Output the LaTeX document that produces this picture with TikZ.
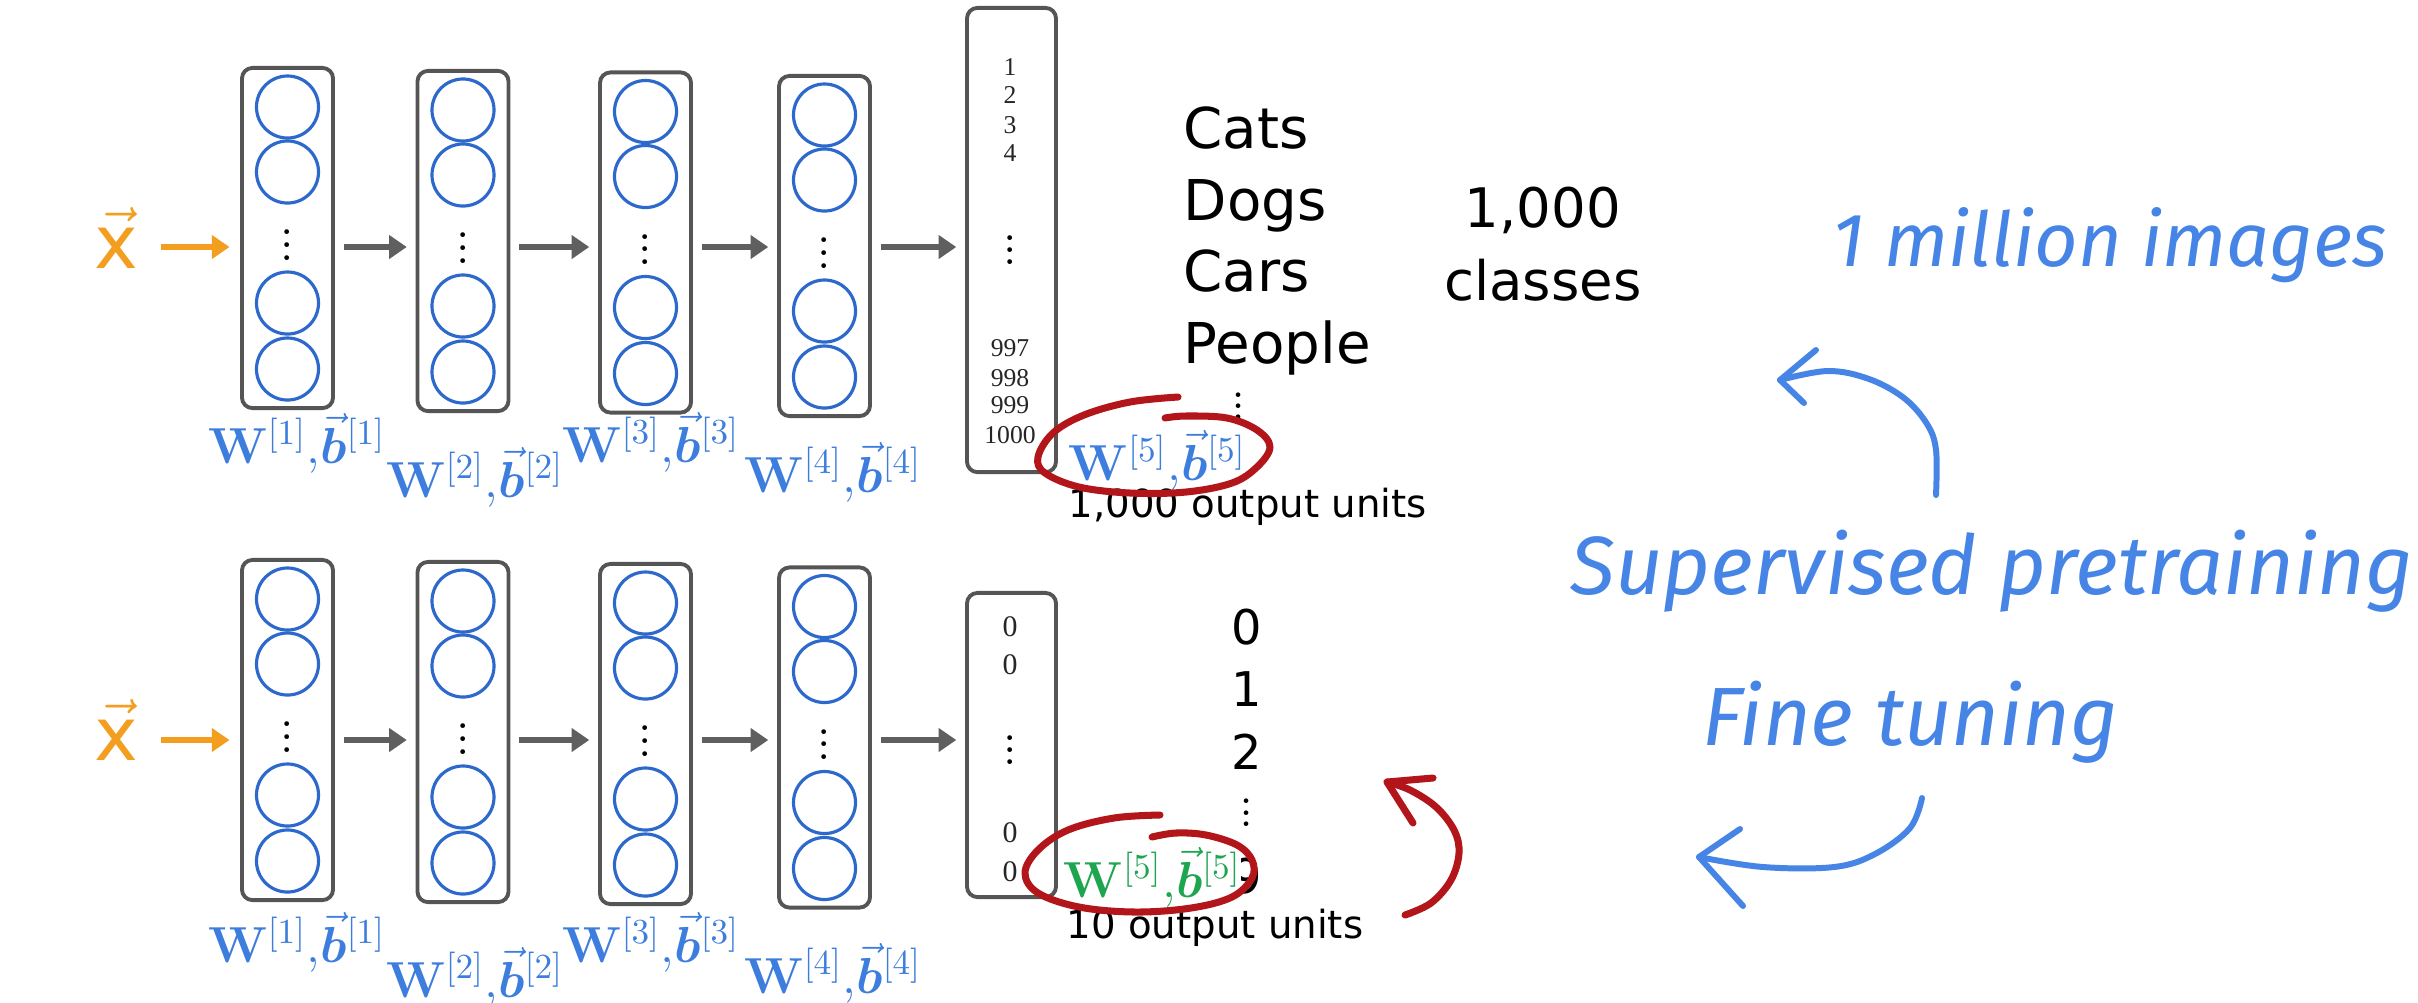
\documentclass[tikz,border=0pt]{standalone}
\usepackage[no-math]{fontspec}
\usepackage{amsmath,bm}
\usetikzlibrary{arrows.meta}
\newfontfamily\dejavu{DejaVu Sans}
\newfontfamily\tms{Liberation Serif}
\newfontfamily\hand{Fira Sans}
\definecolor{boxgray}{RGB}{85,85,85}
\definecolor{arrgray}{RGB}{95,95,95}
\definecolor{nblue}{RGB}{45,105,205}
\definecolor{wblue}{RGB}{60,125,222}
\definecolor{hblue}{RGB}{70,133,230}
\definecolor{wgreen}{RGB}{30,165,80}
\definecolor{orng}{RGB}{244,158,32}
\definecolor{redc}{RGB}{178,22,26}
% three stacked dots with a chosen pitch
\newcommand\mydots[1]{\vbox{\baselineskip#1\lineskiplimit0pt\hbox{.}\hbox{.}\hbox{.}}}
% weight/bias label of layer #1
\newcommand\wb[1]{$\mathbf{W}^{[#1]}{,}\vec{\bm b}^{[#1]}$}
% one hidden layer: box, four neurons and the ellipsis
\newcommand\nnlayer[3]{%
  \node[lbox] (#1) at (#2,#3) {};
  \foreach \k/\dy in {1/-131,2/-66,3/65,4/131}{\node[neuron] (#1-c\k) at (#2,#3+\dy) {};}
  \node[vdot] (#1-d) at (#2,#3+7) {\mydots{3.6pt}};
}
\begin{document}
\begin{tikzpicture}[x=0.01cm,y=-0.01cm,
  lbox/.style={draw=boxgray, line width=1.1pt, rounded corners=3pt, fill=white,
               minimum width=0.91cm, minimum height=3.4cm, inner sep=0pt},
  neuron/.style={circle, draw=nblue, line width=0.9pt, minimum size=0.62cm, inner sep=0pt},
  vdot/.style={inner sep=0pt, font=\fontsize{14}{14}\selectfont},
  gar/.style={draw=arrgray, line width=1.5pt, -{Triangle[length=5pt,width=6.5pt]},
              shorten <=2.5pt, shorten >=2.5pt},
  oar/.style={draw=orng, line width=1.5pt, -{Triangle[length=5pt,width=6.5pt]}},
  wlab/.style={text=wblue, inner sep=0pt, anchor=base, font=\fontsize{13.8}{13.8}\selectfont},
  dig/.style={inner sep=0pt, text=black!85, font=\tms\fontsize{7.3}{7.3}\selectfont},
  dig2/.style={inner sep=0pt, text=black!85, font=\tms\fontsize{8.5}{8.5}\selectfont},
  cls/.style={inner sep=0pt, anchor=base west, font=\dejavu\fontsize{16}{16}\selectfont},
  big/.style={inner sep=0pt, anchor=base, font=\dejavu\fontsize{15.5}{15.5}\selectfont},
  units/.style={inner sep=0pt, anchor=base west, font=\dejavu\fontsize{11}{11}\selectfont},
  cnum/.style={inner sep=0pt, font=\dejavu\fontsize{13.6}{13.6}\selectfont},
  hw/.style={text=hblue, inner sep=0pt, anchor=base west, font=\hand\itshape\fontsize{23.5}{23.5}\selectfont},
  redp/.style={draw=redc, line width=2pt, line cap=round, line join=round},
  bluep/.style={draw=hblue, line width=1.7pt, line cap=round, line join=round}
]
\fill[white] (0,0) rectangle (2418,1002);
\path[use as bounding box] (0,0) rectangle (2418,1002);

% ---------- upper network: 1000-way classifier ----------
\coordinate (ya) at (0,247);
\node[inner sep=0pt, anchor=base, text=orng, font=\dejavu\fontsize{21}{21}\selectfont]
  (xa) at (116,268) {$\vec{\text{x}}$};
\nnlayer{t1}{287.5}{238}
\nnlayer{t2}{463}{241}
\nnlayer{t3}{645.5}{242.5}
\nnlayer{t4}{824.5}{246}
\node[lbox, minimum width=0.89cm, minimum height=4.64cm] (t5) at (1011.5,240) {};
\node[dig] (t5-n1) at (1010,67) {1};
\node[dig] (t5-n2) at (1010,95) {2};
\node[dig] (t5-n3) at (1010,125) {3};
\node[dig] (t5-n4) at (1010,153) {4};
\node[vdot] (t5-d) at (1010,250) {\mydots{3.4pt}};
\node[dig] (t5-n997) at (1010,348) {997};
\node[dig] (t5-n998) at (1010,378) {998};
\node[dig] (t5-n999) at (1010,405) {999};
\node[dig] (t5-n1000) at (1010,435) {1000};

\draw[oar, shorten <=6.5pt, shorten >=3pt] (xa.east |- ya) -- (t1.west |- ya);
\draw[gar] (t1.east |- ya) -- (t2.west |- ya);
\draw[gar] (t2.east |- ya) -- (t3.west |- ya);
\draw[gar] (t3.east |- ya) -- (t4.west |- ya);
\draw[gar] (t4.east |- ya) -- (t5.west |- ya);

\node[wlab] (t1-w) at (297,463) {\wb{1}};
\node[wlab] (t2-w) at (475,497) {\wb{2}};
\node[wlab] (t3-w) at (651,462) {\wb{3}};
\node[wlab] (t4-w) at (833,492) {\wb{4}};
\node[wlab, anchor=base west] (t5-w) at (1068,480) {\wb{5}};
\node[units] (t5-u) at (1068,517) {1,000 output units};

\node[cls] (cats) at (1183,148) {Cats};
\node[cls] (dogs) at (1183,220) {Dogs};
\node[cls] (cars) at (1183,291) {Cars};
\node[cls] (people) at (1183,363) {People};
\node[vdot, font=\fontsize{16}{16}\selectfont] (cls-d) at (1239,406) {\mydots{3.2pt}};
\node[big] (k1000) at (1543,227) {1,000};
\node[big] (kcls) at (1543,300) {classes};

% ---------- lower network: 10-way classifier ----------
\coordinate (yb) at (0,740);
\node[inner sep=0pt, anchor=base, text=orng, font=\dejavu\fontsize{21}{21}\selectfont]
  (xb) at (116,760) {$\vec{\text{x}}$};
\nnlayer{u1}{287.5}{730}
\nnlayer{u2}{463}{732}
\nnlayer{u3}{645.5}{734}
\nnlayer{u4}{824.5}{737.5}
\node[lbox, minimum width=0.89cm, minimum height=3.04cm] (u5) at (1011.5,745) {};
\node[dig2] (u5-n1) at (1010,627) {0};
\node[dig2] (u5-n2) at (1010,665) {0};
\node[vdot] (u5-d) at (1010,750) {\mydots{3.4pt}};
\node[dig2] (u5-n3) at (1010,833) {0};
\node[dig2] (u5-n4) at (1010,872) {0};

\draw[oar, shorten <=6.5pt, shorten >=3pt] (xb.east |- yb) -- (u1.west |- yb);
\draw[gar] (u1.east |- yb) -- (u2.west |- yb);
\draw[gar] (u2.east |- yb) -- (u3.west |- yb);
\draw[gar] (u3.east |- yb) -- (u4.west |- yb);
\draw[gar] (u4.east |- yb) -- (u5.west |- yb);

\node[wlab] (u1-w) at (297,962) {\wb{1}};
\node[wlab] (u2-w) at (475,997) {\wb{2}};
\node[wlab] (u3-w) at (651,962) {\wb{3}};
\node[wlab] (u4-w) at (833,993) {\wb{4}};

\node[cnum] (c0) at (1247,627) {0};
\node[cnum] (c1) at (1247,689) {1};
\node[cnum] (c2) at (1247,752) {2};
\node[vdot, font=\fontsize{16}{16}\selectfont] (cd) at (1247,813) {\mydots{3.3pt}};
\node[cnum] (c9) at (1247,876) {9};
\node[wlab, anchor=base west, text=wgreen, fill=white] (u5-w) at (1063,897) {\wb{5}};
\node[units] (u5-u) at (1066,938) {10 output units};

% ---------- handwritten notes ----------
\node[hw, font=\hand\itshape\fontsize{21.5}{21.5}\selectfont] (million) at (1832,266) {1 million images};
\node[hw] (pretrain) at (1570,594) {Supervised pretraining};
\node[hw] (finetune) at (1702,745) {Fine tuning};

\coordinate (pa-s) at (1936,495);
\coordinate (pa-t) at (1780,380);
\draw[bluep] plot[smooth, tension=0.6] coordinates {(pa-s) (1936,450) (1927,424) (1904,398) (1869,379) (1828,371) (pa-t)};
\draw[bluep] (1816,350) -- (pa-t) -- (1804,403);

\coordinate (fa-s) at (1922,798);
\coordinate (fa-t) at (1699,857);
\draw[bluep] plot[smooth, tension=0.6] coordinates {(fa-s) (1910,828) (1875,854) (1834,867) (1763,867) (fa-t)};
\draw[bluep] (1740,829) -- (fa-t) -- (1743,906);

% ---------- red pen marks ----------
\draw[redp] plot[smooth, tension=0.6] coordinates {(1178,397) (1130,402) (1084,415) (1053,433) (1038,457) (1045,473) (1079,487) (1130,493) (1186,492) (1232,483) (1257,467) (1270,447) (1257,430) (1227,418) (1186,416) (1165,418)};
\draw[redp] plot[smooth, tension=0.6] coordinates {(1160,815) (1114,818) (1068,830) (1038,850) (1025,873) (1038,893) (1079,907) (1135,912) (1191,908) (1232,897) (1252,878) (1252,860) (1237,845) (1206,835) (1176,833) (1152,837)};
\coordinate (ra-s) at (1405,915);
\coordinate (ra-t) at (1387,782);
\draw[redp] plot[smooth, tension=0.6] coordinates {(ra-s) (1431,903) (1451,880) (1459,853) (1454,830) (1436,807) (1410,790) (ra-t)};
\draw[redp] (1433,778) -- (ra-t) -- (1413,823);
\end{tikzpicture}
\end{document}
